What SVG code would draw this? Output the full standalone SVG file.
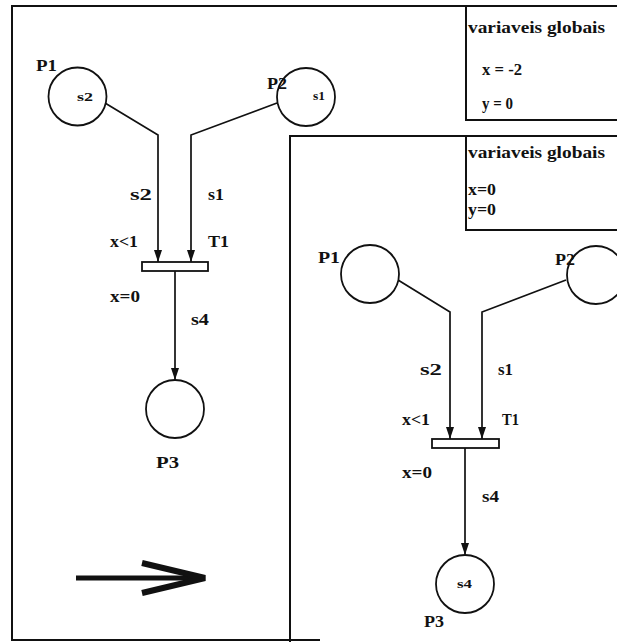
<svg xmlns="http://www.w3.org/2000/svg" width="617" height="642" viewBox="0 0 617 642">
  <style>
    .frame { fill: none; stroke: #111; stroke-width: 2; }
    .place { fill: #fff; stroke: #111; stroke-width: 1.8; }
    .trans { fill: #fff; stroke: #111; stroke-width: 1.8; }
    .arc { fill: none; stroke: #111; stroke-width: 1.7; }
    text { font-family: 'Liberation Serif', 'Times New Roman', 'DejaVu Serif', serif; fill: #111; }
    .lbl { font-size: 16px; font-weight: bold; }
    .glb { font-size: 16px; font-weight: bold; }
    .tok { font-size: 12px; font-weight: bold; }
  </style>
  <defs>
    <marker id="tip" markerUnits="userSpaceOnUse" markerWidth="13" markerHeight="8" refX="12" refY="4" orient="auto" viewBox="0 0 13 8">
      <path d="M0,0 L12,4 L0,8 Z" fill="#111"/>
    </marker>
  </defs>
  <rect width="617" height="642" fill="#fff"/>

  <!-- outer frame and the frame of the second state -->
  <g id="frames">
    <path class="frame" d="M617,6 H12 V640 H320"/>
    <path class="frame" d="M617,136 H290 V642"/>
  </g>

  <!-- global variables, before firing -->
  <g id="globals-before">
    <path class="frame" d="M466,6 V120 H617"/>
    <text class="glb" x="468" y="33" textLength="137" lengthAdjust="spacingAndGlyphs">variaveis globais</text>
    <text class="glb" x="482" y="75" textLength="40" lengthAdjust="spacingAndGlyphs">x = -2</text>
    <text class="glb" x="482" y="109" textLength="31" lengthAdjust="spacingAndGlyphs">y = 0</text>
  </g>

  <!-- global variables, after firing -->
  <g id="globals-after">
    <path class="frame" d="M466,136 V230 H617"/>
    <text class="glb" x="468" y="158" textLength="137" lengthAdjust="spacingAndGlyphs">variaveis globais</text>
    <text class="glb" x="468" y="195" textLength="28" lengthAdjust="spacingAndGlyphs">x=0</text>
    <text class="glb" x="468" y="215" textLength="28" lengthAdjust="spacingAndGlyphs">y=0</text>
  </g>

  <!-- arcs of both nets -->
  <g id="connectors">
    <polyline class="arc" points="105,103 158,135 158,262" marker-end="url(#tip)"/>
    <polyline class="arc" points="277,103 191,135 191,262" marker-end="url(#tip)"/>
    <polyline class="arc" points="175,271 175,380" marker-end="url(#tip)"/>
    <polyline class="arc" points="398,280 450,312 450,439" marker-end="url(#tip)"/>
    <polyline class="arc" points="566,280 482,312 482,439" marker-end="url(#tip)"/>
    <polyline class="arc" points="465,448 465,555" marker-end="url(#tip)"/>
  </g>

  <!-- net before firing -->
  <g id="a-P1">
    <circle class="place" cx="77.5" cy="96.5" r="29"/>
    <text class="lbl" x="36" y="71" textLength="21" lengthAdjust="spacingAndGlyphs">P1</text>
    <text class="tok" x="77" y="101" textLength="16" lengthAdjust="spacingAndGlyphs">s2</text>
  </g>
  <g id="a-P2">
    <circle class="place" cx="306" cy="97" r="29"/>
    <text class="lbl" x="267" y="89" textLength="20" lengthAdjust="spacingAndGlyphs">P2</text>
    <text class="tok" x="313" y="100" textLength="12" lengthAdjust="spacingAndGlyphs">s1</text>
  </g>
  <g id="a-T1">
    <rect class="trans" x="142" y="262" width="66" height="9"/>
    <text class="lbl" x="130" y="200" textLength="22" lengthAdjust="spacingAndGlyphs">s2</text>
    <text class="lbl" x="208" y="200" textLength="16" lengthAdjust="spacingAndGlyphs">s1</text>
    <text class="lbl" x="110" y="247" textLength="28" lengthAdjust="spacingAndGlyphs">x&lt;1</text>
    <text class="lbl" x="208" y="247" textLength="21" lengthAdjust="spacingAndGlyphs">T1</text>
    <text class="lbl" x="110" y="302" textLength="30" lengthAdjust="spacingAndGlyphs">x=0</text>
    <text class="lbl" x="191" y="325" textLength="18" lengthAdjust="spacingAndGlyphs">s4</text>
  </g>
  <g id="a-P3">
    <circle class="place" cx="175" cy="409" r="29"/>
    <text class="lbl" x="156" y="468" textLength="23" lengthAdjust="spacingAndGlyphs">P3</text>
  </g>

  <!-- firing arrow -->
  <g id="firing-arrow">
    <line x1="76" y1="578" x2="200" y2="578" stroke="#111" stroke-width="5"/>
    <polyline points="142,563 205,578 142,593" fill="none" stroke="#111" stroke-width="6" stroke-linejoin="miter"/>
  </g>

  <!-- net after firing -->
  <g id="b-P1">
    <circle class="place" cx="370" cy="274" r="29"/>
    <text class="lbl" x="318" y="263" textLength="22" lengthAdjust="spacingAndGlyphs">P1</text>
  </g>
  <g id="b-P2">
    <circle class="place" cx="596" cy="275" r="29"/>
    <text class="lbl" x="555" y="265" textLength="20" lengthAdjust="spacingAndGlyphs">P2</text>
  </g>
  <g id="b-T1">
    <rect class="trans" x="432" y="439" width="67" height="9"/>
    <text class="lbl" x="420" y="375" textLength="22" lengthAdjust="spacingAndGlyphs">s2</text>
    <text class="lbl" x="498" y="375" textLength="15" lengthAdjust="spacingAndGlyphs">s1</text>
    <text class="lbl" x="402" y="425" textLength="28" lengthAdjust="spacingAndGlyphs">x&lt;1</text>
    <text class="lbl" x="502" y="425" textLength="17" lengthAdjust="spacingAndGlyphs">T1</text>
    <text class="lbl" x="402" y="478" textLength="30" lengthAdjust="spacingAndGlyphs">x=0</text>
    <text class="lbl" x="482" y="502" textLength="17" lengthAdjust="spacingAndGlyphs">s4</text>
  </g>
  <g id="b-P3">
    <circle class="place" cx="465" cy="584" r="29"/>
    <text class="tok" x="457" y="588" textLength="15" lengthAdjust="spacingAndGlyphs">s4</text>
    <text class="lbl" x="424" y="627" textLength="20" lengthAdjust="spacingAndGlyphs">P3</text>
  </g>
</svg>
